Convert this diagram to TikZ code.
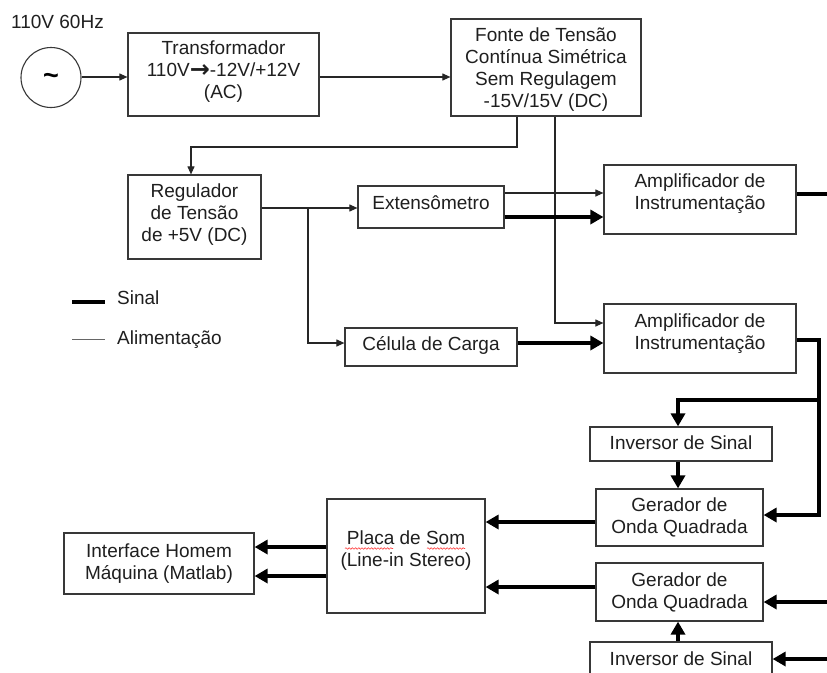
\documentclass[tikz,border=0pt]{standalone}
\usepackage{fontspec}
\setmainfont{Liberation Sans}
\newfontfamily\symfont{DejaVu Sans}
\usetikzlibrary{arrows.meta,decorations.pathmorphing}

% block: name, centre x, centre y, width, height, text shift, text
\newcommand\blk[7]{%
  \node[box, minimum width=#4pt, minimum height=#5pt] (#1) at (#2,#3) {};
  \node[lbl] (#1-t) at ([yshift=#6pt]#1.center) {#7};}

\begin{document}
\begin{tikzpicture}[x=1pt,y=-1pt,
  box/.style={draw=black!78, line width=1.2pt, inner sep=0pt},
  lbl/.style={align=center, font=\fontsize{19}{22}\selectfont, text=black!88, inner sep=0pt},
  feed/.style={draw=black!85, line width=1.1pt, -{Triangle[length=8pt,width=7pt]}},
  sig/.style={draw=black, line width=4.5pt, -{Triangle[length=13pt,width=14pt]}},
  sigline/.style={draw=black, line width=4.5pt},
  feedline/.style={draw=black!60, line width=1pt},
  spell/.style={draw=red!75, line width=0.6pt, decorate,
    decoration={snake, amplitude=0.8pt, segment length=3.2pt}}]

\useasboundingbox (0,0) rectangle (827,672);
\clip (0,0) rectangle (827,672);
\fill[white] (0,0) rectangle (827,672);

% mains source
\node[lbl, anchor=west] (mains) at (11,22) {110V 60Hz};
\node[draw=black!78, line width=1.1pt, circle, minimum size=60pt, inner sep=0pt] (src) at (51,77.5) {};
\node[font=\fontsize{27}{27}\selectfont\bfseries, inner sep=0pt] (tilde) at (51,79) {\textasciitilde};

% blocks
\blk{trafo}{223.5}{74.5}{191}{83}{2.5}{Transformador\\110V{\symfont\bfseries\fontsize{24}{22}\selectfont\raisebox{-0.5pt}{→}}-12V/+12V\\(AC)}
\blk{fonte}{546}{67.5}{190}{97}{-2}{Fonte de Tensão\\Contínua Simétrica\\Sem Regulagem\\-15V/15V (DC)}
\blk{reg}{194.5}{217}{133}{84}{2.5}{Regulador\\de Tensão\\de +5V (DC)}
\blk{ext}{431}{207}{146}{42}{4}{Extensômetro}
\blk{amp1}{700}{199.5}{192}{69}{6}{Amplificador de\\Instrumentação}
\blk{cel}{431}{347}{172}{38}{2}{Célula de Carga}
\blk{amp2}{700}{338.5}{192}{69}{5}{Amplificador de\\Instrumentação}
\blk{inv1}{681}{444}{182}{34}{1}{Inversor de Sinal}
\blk{ger1}{679.5}{517.5}{167}{57}{0}{Gerador de\\Onda Quadrada}
\blk{placa}{406}{556}{158}{114}{5}{Placa de Som\\(Line-in Stereo)}
\blk{ger2}{679.5}{592}{167}{58}{0}{Gerador de\\Onda Quadrada}
\blk{inv2}{681}{659}{182}{34}{0}{Inversor de Sinal}
\blk{hmi}{159}{563.5}{190}{61}{0}{Interface Homem\\Máquina (Matlab)}

% spelling marks under the sound card label
\draw[spell] (345,548.5) -- (393,548.5);
\draw[spell] (427,548.5) -- (465,548.5);

% junction and edge points
\coordinate (f1) at (517,147);
\coordinate (f2) at (191,147);
\coordinate (f3) at (555,323);
\coordinate (r1) at (308,208);
\coordinate (r2) at (308,343);
\coordinate (a1) at (840,194);
\coordinate (a2) at (819,340);
\coordinate (a3) at (819,400);
\coordinate (a4) at (819,515);
\coordinate (a5) at (678,400);
\coordinate (g2in) at (840,602);
\coordinate (i2in) at (840,659);

% supply connections
\draw[feed] (src.east |- 0,77) -- (trafo.west |- 0,77);
\draw[feed] (trafo.east |- 0,77) -- (fonte.west |- 0,77);
\draw[feed] (fonte.south -| f1) -- (f1) -- (f2) -- (reg.north -| f2);
\draw[feed] (fonte.south -| f3) -- (f3) -- (amp2.west |- f3);
\draw[feed] (reg.east |- r1) -- (ext.west |- r1);
\draw[feed] (r1) -- (r2) -- (cel.west |- r2);
\draw[feed] (ext.east |- 0,193) -- (amp1.west |- 0,193);

% signal connections
\draw[sig] (ext.east |- 0,217) -- (amp1.west |- 0,217);
\draw[sigline] (amp1.east |- a1) -- (a1);
\draw[sig] (cel.east |- 0,343) -- (amp2.west |- 0,343);
\draw[sig] (amp2.east |- a2) -- (a2) -- (a4) -- (ger1.east |- a4);
\draw[sig] (a3) -- (a5) -- (inv1.north -| a5);
\draw[sig] (inv1.south -| a5) -- (ger1.north -| a5);
\draw[sig] (ger1.west |- 0,522) -- (placa.east |- 0,522);
\draw[sig] (ger2.west |- 0,587) -- (placa.east |- 0,587);
\draw[sig] (g2in) -- (ger2.east |- g2in);
\draw[sig] (inv2.north -| a5) -- (ger2.south -| a5);
\draw[sig] (i2in) -- (inv2.east |- i2in);
\draw[sig] (placa.west |- 0,547) -- (hmi.east |- 0,547);
\draw[sig] (placa.west |- 0,576) -- (hmi.east |- 0,576);

% legend
\draw[sigline] (72,302) -- (105,302);
\node[lbl, anchor=west] (leg-sig) at (117,298) {Sinal};
\draw[feedline] (72,339) -- (105,339);
\node[lbl, anchor=west] (leg-feed) at (117,340) {Alimentação};

\end{tikzpicture}
\end{document}
